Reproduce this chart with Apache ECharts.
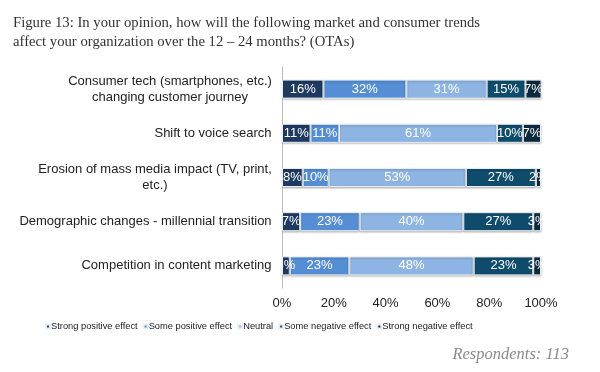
<!DOCTYPE html>
<html><head><meta charset="utf-8">
<script src="https://cdn.jsdelivr.net/npm/echarts@6/dist/echarts.min.js"></script>
<style>html,body{margin:0;padding:0;background:#fff}#c{width:600px;height:372px}</style>
</head><body><div id="c"></div>
<script>
const categories = [
  "Consumer tech (smartphones, etc.)\nchanging customer journey",
  "Shift to voice search",
  "Erosion of mass media impact (TV, print,\netc.)",
  "Demographic changes - millennial transition",
  "Competition in content marketing"
];
const seriesNames = ["Strong positive effect","Some positive effect","Neutral","Some negative effect","Strong negative effect"];
const strongPositive = [16, 11, 8, 7, 3];
const somePositive   = [32, 11, 10, 23, 23];
const neutral        = [31, 61, 53, 40, 48];
const someNegative   = [15, 10, 27, 27, 23];
const strongNegative = [7, 7, 2, 3, 3];
const tickLabels = ["0%","20%","40%","60%","80%","100%"];
const colors = ["#1f3a60","#558ed5","#8db4e2","#0f4c6c","#0d2a3c"];
const values = [strongPositive, somePositive, neutral, someNegative, strongNegative];

const labelFont = "13px 'Liberation Sans'";
const cv = document.createElement('canvas').getContext('2d');
cv.font = labelFont;
const rich = {};
categories.forEach((c, i) => {
  const w = Math.max(...c.split('\n').map(s => cv.measureText(s).width));
  rich['r' + i] = {width: Math.ceil(w), align: 'center', fontFamily: "Liberation Sans", fontSize: 13, color: "#222", lineHeight: 16};
});

const chart = echarts.init(document.getElementById('c'));
chart.setOption({
  animation: false,
  title: [
    {text: "Figure 13: In your opinion, how will the following market and consumer trends\naffect your organization over the 12 \u2013 24 months? (OTAs)",
     left: 8, top: 9, textStyle:{fontFamily:"Liberation Serif", fontWeight:"normal", fontSize:14.7, color:"#333", lineHeight:19}},
    {text: "Respondents: 113", right: 26, top: 341,
     textStyle:{fontFamily:"Liberation Serif", fontStyle:"italic", fontWeight:"normal", fontSize:16.5, color:"#8a8a8a"}}
  ],
  legend: {
    data: seriesNames, top: 322, left: 45, padding: 0, itemWidth: 4, itemHeight: 4, itemGap: 5,
    icon: 'rect',
    textStyle: {fontFamily:"Liberation Sans", fontSize: 9.3, color:"#222", padding:[0,0,0,-4]}
  },
  grid: {left: 282, right: 59, top: 67, bottom: 84},
  xAxis: {
    type: 'value', min: 0, max: 100, interval: 20,
    axisLine:{show:false}, axisTick:{show:false}, splitLine:{show:false},
    axisLabel:{formatter: v => tickLabels[v/20], fontFamily:"Liberation Sans", fontSize:13, color:"#222", margin:9}
  },
  yAxis: {
    type: 'category', data: categories, inverse: true,
    axisLine:{show:true, lineStyle:{color:"#bbb"}}, axisTick:{show:false},
    axisLabel:{
      formatter: (v, i) => v.split('\n').map(s => '{r' + i + '|' + s + '}').join('\n'),
      rich: rich, margin:10, align:'right'
    }
  },
  series: seriesNames.map((n,i)=>({
    name: n, type: 'bar', stack: 'all', data: values[i], barWidth: 19,
    itemStyle:{color: colors[i], borderColor:"#e8eef6", borderWidth:1,
      shadowColor:"rgba(0,0,0,0.25)", shadowBlur:2, shadowOffsetY:1},
    label:{show:true, formatter: p => p.value + "%", color:"#fff", fontFamily:"Liberation Sans", fontSize:13}
  }))
});
</script></body></html>
